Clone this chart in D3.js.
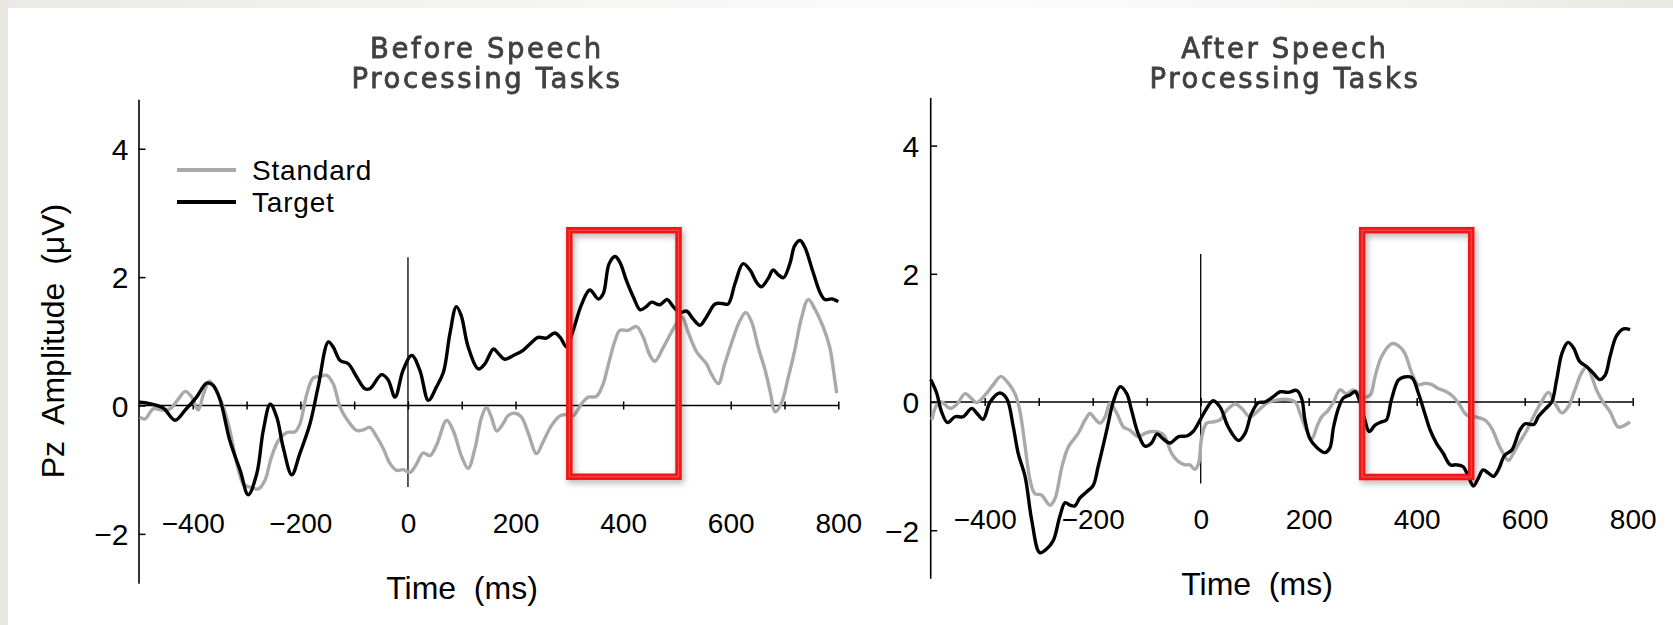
<!DOCTYPE html>
<html><head><meta charset="utf-8">
<script src="https://cdn.jsdelivr.net/npm/d3@7"></script>
<style>
html,body{margin:0;padding:0;background:#fff;}
svg{display:block;}
</style></head><body>
<svg id="chart" width="1673" height="625"></svg>
<script>
// ---------------- DATA ----------------
const xTickValues = [-400,-300,-200,-100,0,100,200,300,400,500,600,700,800];
const xLabelValues = [-400,-200,0,200,400,600,800];
const yTickValues = [-2,0,2,4];
const seriesNames = ["Standard","Target"];
const titlesBefore = ["Before Speech","Processing Tasks"];
const titlesAfter = ["After Speech","Processing Tasks"];
const xAxisTitle = "Time  (ms)";
const yAxisTitle = "Pz  Amplitude  (\u03bcV)";
// analysis window (ms, µV) highlighted by red boxes
const windowBefore = [300, 503, -1.11, 2.73];
const windowAfter = [299, 501, -1.17, 2.68];
const zeroLineRange = [-1.27, 2.31];

const beforeStandard = [[-498,-0.18],[-489,-0.21],[-473,-0.05],[-458,-0.07],[-442,-0.05],[-427,0.10],[-414,0.22],[-402,0.13],[-390,-0.07],[-380,0.18],[-369,0.38],[-356,0.23],[-343,-0.03],[-331,-0.39],[-318,-0.91],[-306,-1.22],[-294,-1.27],[-278,-1.30],[-266,-1.17],[-254,-0.81],[-241,-0.55],[-225,-0.42],[-210,-0.41],[-201,-0.29],[-188,0.18],[-176,0.43],[-164,0.45],[-151,0.47],[-139,0.34],[-126,-0.03],[-114,-0.21],[-95,-0.39],[-83,-0.38],[-71,-0.34],[-58,-0.49],[-46,-0.67],[-33,-0.91],[-21,-1.01],[-9,-1.00],[4,-1.04],[16,-0.91],[28,-0.74],[41,-0.78],[53,-0.62],[72,-0.23],[84,-0.39],[100,-0.80],[112,-0.98],[125,-0.65],[137,-0.18],[146,-0.03],[155,-0.18],[165,-0.40],[177,-0.28],[186,-0.16],[199,-0.12],[211,-0.18],[224,-0.44],[239,-0.75],[251,-0.57],[267,-0.31],[283,-0.16],[295,-0.14],[307,-0.16],[323,0.03],[335,0.13],[350,0.14],[363,0.34],[372,0.62],[385,1.01],[394,1.17],[409,1.17],[425,1.23],[437,1.07],[450,0.78],[459,0.69],[475,0.91],[493,1.19],[509,1.38],[521,1.14],[537,0.83],[555,0.65],[564,0.49],[577,0.34],[589,0.65],[605,1.06],[617,1.32],[628,1.45],[639,1.30],[651,0.91],[664,0.55],[673,0.23],[683,-0.10],[694,0.03],[707,0.44],[719,0.86],[732,1.38],[744,1.65],[756,1.51],[772,1.22],[784,0.91],[791,0.55],[797,0.19]];

const beforeTarget = [[-500,0.05],[-480,0.03],[-455,-0.04],[-433,-0.23],[-414,-0.07],[-393,0.13],[-374,0.35],[-362,0.31],[-349,0.08],[-331,-0.55],[-312,-1.01],[-297,-1.39],[-281,-1.06],[-269,-0.39],[-256,0.02],[-244,-0.18],[-232,-0.65],[-216,-1.08],[-201,-0.75],[-182,-0.28],[-167,0.29],[-148,0.99],[-139,0.91],[-126,0.70],[-111,0.65],[-95,0.44],[-80,0.26],[-71,0.26],[-49,0.48],[-37,0.40],[-24,0.13],[-9,0.55],[7,0.78],[22,0.55],[38,0.08],[53,0.29],[66,0.52],[78,1.12],[90,1.54],[99,1.40],[112,0.91],[131,0.57],[143,0.65],[159,0.88],[168,0.81],[180,0.72],[196,0.78],[214,0.86],[227,0.96],[242,1.06],[257,1.05],[273,1.13],[283,1.06],[295,0.91],[307,1.17],[323,1.58],[338,1.80],[354,1.66],[363,1.74],[374,2.21],[385,2.32],[394,2.23],[406,1.95],[419,1.69],[432,1.49],[443,1.54],[453,1.61],[468,1.57],[482,1.65],[493,1.54],[506,1.45],[518,1.47],[530,1.35],[543,1.25],[555,1.38],[571,1.58],[583,1.59],[595,1.58],[608,1.90],[623,2.21],[636,2.11],[648,1.92],[657,1.85],[669,1.97],[679,2.11],[688,2.04],[698,1.99],[710,2.21],[719,2.49],[729,2.57],[738,2.46],[753,2.08],[766,1.76],[775,1.65],[788,1.66],[800,1.62]];

const afterStandard = [[-498,-0.28],[-489,-0.05],[-480,0.0],[-464,-0.10],[-452,-0.04],[-436,0.13],[-424,0.05],[-415,-0.01],[-399,0.11],[-384,0.27],[-370,0.40],[-356,0.29],[-344,0.13],[-335,-0.13],[-325,-0.70],[-316,-1.22],[-307,-1.43],[-295,-1.45],[-279,-1.61],[-270,-1.51],[-257,-1.01],[-245,-0.70],[-227,-0.49],[-214,-0.28],[-205,-0.18],[-196,-0.26],[-186,-0.33],[-177,-0.23],[-168,-0.02],[-155,-0.18],[-143,-0.39],[-131,-0.44],[-116,-0.54],[-103,-0.49],[-91,-0.46],[-72,-0.49],[-66,-0.54],[-54,-0.80],[-41,-0.93],[-29,-0.98],[-20,-0.98],[-11,-1.05],[-4,-0.96],[2,-0.54],[11,-0.33],[23,-0.31],[36,-0.28],[48,-0.13],[64,-0.03],[76,-0.10],[91,-0.23],[107,-0.13],[122,-0.02],[141,0.03],[159,0.04],[175,0.0],[184,-0.18],[196,-0.44],[206,-0.57],[215,-0.39],[224,-0.23],[236,-0.13],[246,0.0],[258,0.19],[270,0.13],[283,0.19],[295,0.13],[304,0.08],[314,0.11],[323,0.40],[335,0.71],[354,0.91],[366,0.88],[378,0.76],[391,0.45],[403,0.27],[415,0.29],[428,0.27],[440,0.21],[455,0.16],[468,0.08],[480,-0.05],[492,-0.20],[508,-0.23],[526,-0.28],[539,-0.41],[551,-0.65],[560,-0.80],[570,-0.91],[579,-0.80],[591,-0.62],[604,-0.44],[616,-0.23],[631,0.0],[644,0.15],[656,-0.02],[669,-0.17],[681,-0.07],[693,0.19],[705,0.45],[715,0.55],[724,0.40],[733,0.19],[745,0.0],[758,-0.15],[773,-0.39],[786,-0.36],[795,-0.31]];

const afterTarget = [[-500,0.35],[-489,0.14],[-480,-0.15],[-469,-0.32],[-455,-0.23],[-440,-0.23],[-424,-0.10],[-415,-0.17],[-403,-0.27],[-390,0.0],[-372,0.14],[-359,0.05],[-347,-0.39],[-338,-0.80],[-325,-1.17],[-313,-1.84],[-298,-2.35],[-285,-2.29],[-273,-2.16],[-261,-1.79],[-251,-1.57],[-242,-1.61],[-233,-1.62],[-224,-1.50],[-211,-1.40],[-199,-1.30],[-190,-1.01],[-174,-0.44],[-162,0.0],[-149,0.24],[-137,0.13],[-128,-0.13],[-116,-0.49],[-103,-0.69],[-91,-0.64],[-81,-0.50],[-69,-0.58],[-57,-0.64],[-41,-0.54],[-26,-0.53],[-14,-0.46],[-1,-0.28],[11,-0.10],[23,0.02],[36,-0.08],[51,-0.39],[70,-0.60],[82,-0.49],[94,-0.18],[107,-0.01],[119,0.0],[134,0.08],[147,0.16],[162,0.15],[178,0.18],[187,0.05],[193,-0.28],[202,-0.57],[215,-0.71],[230,-0.79],[239,-0.72],[246,-0.39],[255,-0.10],[264,0.06],[276,0.11],[286,0.16],[295,0.0],[304,-0.28],[312,-0.46],[323,-0.36],[335,-0.31],[344,-0.28],[353,0.03],[366,0.34],[377,0.39],[391,0.38],[403,0.14],[415,-0.18],[425,-0.44],[437,-0.65],[449,-0.80],[462,-0.98],[474,-0.98],[486,-1.01],[496,-1.17],[505,-1.31],[514,-1.19],[523,-1.06],[533,-1.11],[542,-1.16],[551,-1.06],[563,-0.83],[576,-0.75],[591,-0.44],[601,-0.34],[617,-0.35],[625,-0.23],[638,-0.11],[650,0.0],[659,0.34],[669,0.76],[680,0.93],[690,0.85],[702,0.63],[715,0.55],[727,0.45],[739,0.35],[749,0.42],[758,0.71],[770,1.03],[783,1.14],[795,1.13]];

// ---------------- DRAW ----------------
const svg = d3.select("#chart");
const FONT = "'Liberation Sans', Arial, Helvetica, sans-serif";
const GRAY = "#a9a9a9";

const defs = svg.append("defs");
const grad = defs.append("linearGradient").attr("id","topband").attr("x1","0").attr("x2","1");
[[0,"#ebe9e5"],[0.3,"#f5f4f1"],[0.6,"#fcfcfb"],[0.85,"#f3f2ef"],[1,"#e9e7e2"]].forEach(s=>
  grad.append("stop").attr("offset",s[0]).attr("stop-color",s[1]));
const shadow = defs.append("filter").attr("id","boxshadow").attr("x","-20%").attr("y","-20%").attr("width","140%").attr("height","140%");
shadow.append("feDropShadow").attr("dx",2).attr("dy",3).attr("stdDeviation",3).attr("flood-color","#000").attr("flood-opacity",0.3);
const blur = defs.append("filter").attr("id","soft");
blur.append("feGaussianBlur").attr("stdDeviation",0.5);

svg.append("rect").attr("width",1673).attr("height",625).attr("fill","#fff");
svg.append("rect").attr("x",0).attr("y",0).attr("width",1673).attr("height",8).attr("fill","url(#topband)");
svg.append("rect").attr("x",0).attr("y",0).attr("width",8).attr("height",625).attr("fill","#e9e7e2");

const panels = [
  {std: beforeStandard, tgt: beforeTarget, titles: titlesBefore, win: windowBefore,
   xr:[139,838.3], yd:[-2.77,4.77], yr:[583.3,99.3], xLabY:533, titleX:487,
   xTitle:[462,599], yLabelX:-10, legend:true, yTitle:true},
  {std: afterStandard, tgt: afterTarget, titles: titlesAfter, win: windowAfter,
   xr:[930.7,1632.7], yd:[-2.75,4.75], yr:[578.3,97.5], xLabY:529, titleX:1285,
   xTitle:[1257,595], yLabelX:-11, legend:false, yTitle:false}
];

panels.forEach(p => {
  const x = d3.scaleLinear().domain([-500,800]).range(p.xr);
  const y = d3.scaleLinear().domain(p.yd).range(p.yr);
  const g = svg.append("g");

  // titles
  const tt = g.append("text").attr("text-anchor","middle")
    .attr("font-family","'DejaVu Sans', sans-serif").attr("font-size",27.5)
    .attr("letter-spacing",2.6)
    .attr("fill","#404040").attr("stroke","#404040").attr("stroke-width",0.8)
    .attr("filter","url(#soft)");
  p.titles.forEach((s,i)=> tt.append("tspan").attr("x",p.titleX).attr("y",57.5+i*30).text(s));

  // x axis (ticks crossing the zero line)
  const xa = g.append("g").attr("transform",`translate(0,${y(0)})`)
    .call(d3.axisBottom(x).tickValues(xTickValues).tickSizeOuter(0).tickSize(4).tickFormat(""));
  xa.select(".domain").attr("stroke","#000").attr("stroke-width",1.6)
    .attr("d",`M${x(-500)},0H${x(800)}`);
  xa.selectAll(".tick line").attr("y1",-4).attr("y2",4).attr("stroke-width",1.5);

  // x labels row at bottom
  const xl = g.append("g").attr("transform",`translate(0,${p.xLabY})`)
    .call(d3.axisBottom(x).tickValues(xLabelValues).tickSize(0)
      .tickFormat(d=> d<0 ? "\u2212"+Math.abs(d) : d));
  xl.select(".domain").remove();
  xl.selectAll("text").attr("y",0).attr("dy",0).attr("font-size",28)
    .attr("font-family",FONT).attr("fill","#000");

  // y axis
  const ya = g.append("g").attr("transform",`translate(${x(-500)-0.5},0)`)
    .call(d3.axisLeft(y).tickValues(yTickValues).tickSizeInner(-7).tickSizeOuter(0).tickPadding(10)
      .tickFormat(d=> d<0 ? "\u2212"+Math.abs(d) : d));
  ya.select(".domain").attr("stroke-width",1.6);
  ya.selectAll(".tick line").attr("stroke-width",1.5);
  ya.selectAll("text").attr("x",p.yLabelX).attr("dy","0.36em").attr("font-size",30)
    .attr("font-family",FONT).attr("fill","#000");

  // zero time line
  g.append("line").attr("x1",x(0)).attr("x2",x(0))
    .attr("y1",y(zeroLineRange[1])).attr("y2",y(zeroLineRange[0]))
    .attr("stroke","#000").attr("stroke-width",1.3);

  // curves
  const line = d3.line().x(d=>x(d[0])).y(d=>y(d[1])).curve(d3.curveCatmullRom.alpha(0.5));
  g.append("path").datum(p.std).attr("d",line).attr("fill","none")
    .attr("stroke",GRAY).attr("stroke-width",3.4).attr("stroke-linejoin","round");
  g.append("path").datum(p.tgt).attr("d",line).attr("fill","none")
    .attr("stroke","#000").attr("stroke-width",3.4).attr("stroke-linejoin","round");

  // red box
  const w = p.win;
  const bx = x(w[0]), bw = x(w[1])-x(w[0]), by = y(w[3]), bh = y(w[2])-y(w[3]);
  g.append("rect").attr("x",bx).attr("y",by).attr("width",bw).attr("height",bh)
    .attr("fill","none").attr("stroke","#f01414").attr("stroke-width",6.5).attr("filter","url(#boxshadow)");
  g.append("rect").attr("x",bx).attr("y",by).attr("width",bw).attr("height",bh)
    .attr("fill","none").attr("stroke","#ff7a7a").attr("stroke-width",1).attr("opacity",0.6);

  // x title
  g.append("text").attr("x",p.xTitle[0]).attr("y",p.xTitle[1]).attr("text-anchor","middle")
    .attr("font-family",FONT).attr("font-size",32).style("white-space","pre").text(xAxisTitle);

  if (p.yTitle) {
    g.append("text").attr("transform","rotate(-90)").attr("x",-341).attr("y",64)
      .attr("text-anchor","middle").attr("font-family",FONT).attr("font-size",32)
      .style("white-space","pre").text(yAxisTitle);
  }

  if (p.legend) {
    const colors = [GRAY,"#000"];
    const lg = g.append("g");
    seriesNames.forEach((name,i)=>{
      const cy = 170 + i*32;
      lg.append("line").attr("x1",177).attr("x2",236).attr("y1",cy).attr("y2",cy)
        .attr("stroke",colors[i]).attr("stroke-width",4);
      lg.append("text").attr("x",252).attr("y",cy+10).attr("font-family",FONT)
        .attr("font-size",28).attr("letter-spacing",0.8).text(name);
    });
  }
});
</script>
</body></html>
